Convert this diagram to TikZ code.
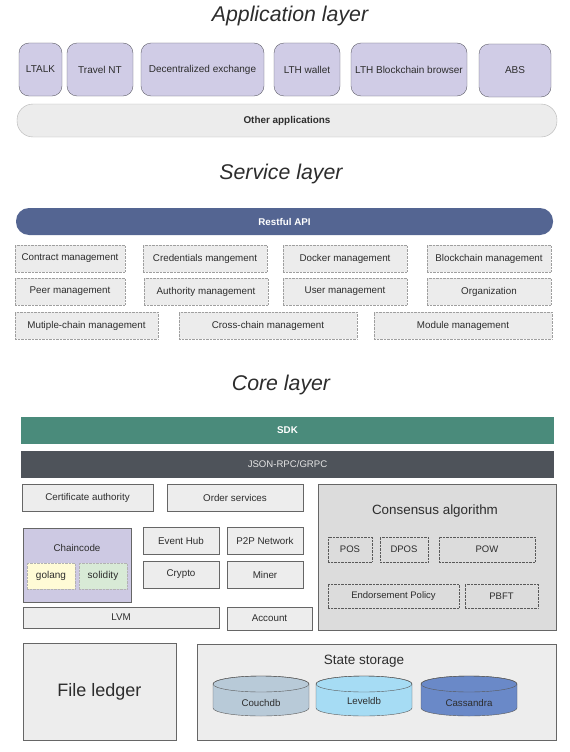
\documentclass[tikz,border=0pt]{standalone}
\usepackage{fontspec}
\setmainfont{Liberation Sans}
\usepackage{tikz}
\usetikzlibrary{calc}

\definecolor{appfill}{RGB}{208,204,230}
\definecolor{appline}{RGB}{95,95,105}
\definecolor{otherfill}{RGB}{236,236,236}
\definecolor{restfill}{RGB}{84,101,146}
\definecolor{svcfill}{RGB}{236,236,236}
\definecolor{sdkfill}{RGB}{74,139,123}
\definecolor{rpcfill}{RGB}{78,83,90}
\definecolor{corefill}{RGB}{237,237,237}
\definecolor{consfill}{RGB}{220,220,220}
\definecolor{chainfill}{RGB}{205,201,227}
\definecolor{gofill}{RGB}{255,251,214}
\definecolor{solfill}{RGB}{216,234,214}
\definecolor{couchfill}{RGB}{184,202,216}
\definecolor{levelfill}{RGB}{166,220,244}
\definecolor{cassfill}{RGB}{106,137,200}
\definecolor{txt}{RGB}{45,45,45}

\begin{document}
\begin{tikzpicture}[x=1pt,y=-1pt,txt,
    layertitle/.style={font=\fontsize{21.3}{24}\selectfont\itshape},
    boxfont/.style={font=\fontsize{9.8}{11}\selectfont},
    appbox/.style={draw=appline,fill=appfill,rounded corners=10pt,
        font=\fontsize{10}{11}\selectfont},
    svcbox/.style={draw=gray!75,densely dotted,fill=svcfill,boxfont},
    corebox/.style={draw=gray!80!black,fill=corefill,boxfont},
    algbox/.style={draw=gray!70!black,densely dotted,fill=consfill,
        font=\fontsize{9.5}{11}\selectfont}]

\useasboundingbox (0,0) rectangle (570,752);

% Application layer
\node[layertitle] (apptitle) at (290,16) {Application layer};

\node[appbox,minimum width=43pt,minimum height=53pt] (ltalk) at (40.5,69.5) {LTALK};
\node[appbox,minimum width=66pt,minimum height=53pt] (travel) at (100,69.5) {Travel NT};
\node[appbox,minimum width=123pt,minimum height=53pt] (dex) at (202.5,69.5) {Decentralized exchange};
\node[appbox,minimum width=66pt,minimum height=53pt] (wallet) at (307,69.5) {LTH wallet};
\node[appbox,minimum width=116pt,minimum height=53pt] (browser) at (409,69.5) {LTH Blockchain browser};
\node[appbox,minimum width=72pt,minimum height=53pt] (abs) at (515,70.5) {ABS};

\node[draw=gray!60,fill=otherfill,rounded corners=16pt,
    minimum width=540pt,minimum height=33pt,
    font=\fontsize{9.9}{11}\selectfont\bfseries] (other) at (287,120.5) {Other applications};

% Service layer
\node[layertitle] (svctitle) at (281,174) {Service layer};

\node[fill=restfill,rounded corners=13pt,
    minimum width=537pt,minimum height=27pt,
    text=white,font=\fontsize{9.8}{11}\selectfont\bfseries] (restful) at (284.5,221.5) {Restful API};

\node[svcbox,minimum width=110pt,minimum height=27pt] (contract) at (70,258.5) {Contract management};
\node[svcbox,minimum width=124pt,minimum height=27pt] (credent) at (205,258.5) {Credentials mangement};
\node[svcbox,minimum width=124pt,minimum height=27pt] (docker) at (345,258.5) {Docker management};
\node[svcbox,minimum width=124pt,minimum height=27pt] (bcmgmt) at (489,258.5) {Blockchain management};

\node[svcbox,minimum width=110pt,minimum height=27pt] (peer) at (70,291.5) {Peer management};
\node[svcbox,minimum width=124pt,minimum height=27pt] (authority) at (206,291.5) {Authority management};
\node[svcbox,minimum width=124pt,minimum height=27pt] (user) at (345,291.5) {User management};
\node[svcbox,minimum width=124pt,minimum height=27pt] (org) at (489,291.5) {Organization};

\node[svcbox,minimum width=143pt,minimum height=27pt] (multichain) at (86.5,325.5) {Mutiple-chain management};
\node[svcbox,minimum width=178pt,minimum height=27pt] (crosschain) at (268,325.5) {Cross-chain management};
\node[svcbox,minimum width=178pt,minimum height=27pt] (module) at (463,325.5) {Module management};

% Core layer
\node[layertitle] (coretitle) at (281,385) {Core layer};

\node[fill=sdkfill,minimum width=533pt,minimum height=27pt,
    text=white,font=\fontsize{9.8}{11}\selectfont\bfseries] (sdk) at (287.5,430.5) {SDK};
\node[fill=rpcfill,minimum width=533pt,minimum height=27pt,
    text=white!90!black,font=\fontsize{9.6}{11}\selectfont] (rpc) at (287.5,464.5) {JSON-RPC/GRPC};

\node[corebox,minimum width=131pt,minimum height=27pt] (cert) at (87.5,497.5) {Certificate authority};
\node[corebox,minimum width=136pt,minimum height=27pt] (order) at (235,497.5) {Order services};

% consensus
\node[draw=gray!80!black,fill=consfill,minimum width=238pt,minimum height=146pt] (consensus) at (437,557) {};
\node[font=\fontsize{13.4}{15}\selectfont] (constitle) at (435,511) {Consensus algorithm};
\node[algbox,minimum width=44pt,minimum height=25pt] (pos) at (350,549.5) {POS};
\node[algbox,minimum width=48pt,minimum height=25pt] (dpos) at (404,549.5) {DPOS};
\node[algbox,minimum width=96pt,minimum height=25pt] (pow) at (487,549.5) {POW};
\node[algbox,minimum width=131pt,minimum height=24pt] (endorse) at (393.5,596) {Endorsement Policy};
\node[algbox,minimum width=73pt,minimum height=24pt] (pbft) at (501.5,596) {PBFT};

% chaincode
\node[draw=gray!80!black,fill=chainfill,minimum width=108pt,minimum height=74pt] (chaincode) at (77,565) {};
\node[boxfont] (chaintitle) at (77,548) {Chaincode};
\node[draw=gray!60,densely dotted,fill=gofill,minimum width=48pt,minimum height=26pt,
    font=\fontsize{10}{11}\selectfont] (golang) at (51,576) {golang};
\node[draw=gray!60,densely dotted,fill=solfill,minimum width=48pt,minimum height=26pt,
    font=\fontsize{10}{11}\selectfont] (solidity) at (103,576) {solidity};

\node[corebox,minimum width=76pt,minimum height=27pt] (eventhub) at (181,540.5) {Event Hub};
\node[corebox,minimum width=76pt,minimum height=27pt] (p2p) at (265,540.5) {P2P Network};
\node[corebox,minimum width=76pt,minimum height=27pt] (crypto) at (181,574.5) {Crypto};
\node[corebox,minimum width=76pt,minimum height=27pt] (miner) at (265,574.5) {Miner};
\node[corebox,minimum width=196pt,minimum height=21pt] (lvm) at (121,617.5) {LVM};
\node[corebox,minimum width=85pt,minimum height=23pt] (account) at (269.5,618.5) {Account};

% storage
\node[corebox,minimum width=153pt,minimum height=97pt,
    font=\fontsize{18}{20}\selectfont] (ledger) at (99.5,691.5) {File ledger};
\node[corebox,minimum width=359pt,minimum height=96pt] (state) at (376.5,692) {};
\node[font=\fontsize{13.5}{15}\selectfont] (statetitle) at (364,661) {State storage};

% Couchdb
\filldraw[draw=gray!70!black,fill=couchfill]
    (213,684) -- (213,708) arc[start angle=180,end angle=0,x radius=48,y radius=8]
    -- (309,684) arc[start angle=0,end angle=-180,x radius=48,y radius=8] -- cycle;
\draw[gray!70!black] (261,684) ellipse[x radius=48,y radius=8];
\node[font=\fontsize{9.7}{11}\selectfont] (couchdb) at (261,703) {Couchdb};
% Leveldb
\filldraw[draw=gray!70!black,fill=levelfill]
    (316,684) -- (316,708) arc[start angle=180,end angle=0,x radius=48,y radius=8]
    -- (412,684) arc[start angle=0,end angle=-180,x radius=48,y radius=8] -- cycle;
\draw[gray!70!black] (364,684) ellipse[x radius=48,y radius=8];
\node[font=\fontsize{9.7}{11}\selectfont] (leveldb) at (364,701) {Leveldb};
% Cassandra
\filldraw[draw=gray!70!black,fill=cassfill]
    (421,684) -- (421,708) arc[start angle=180,end angle=0,x radius=48,y radius=8]
    -- (517,684) arc[start angle=0,end angle=-180,x radius=48,y radius=8] -- cycle;
\draw[gray!70!black] (469,684) ellipse[x radius=48,y radius=8];
\node[font=\fontsize{9.7}{11}\selectfont] (cassandra) at (469,703) {Cassandra};

\end{tikzpicture}
\end{document}
